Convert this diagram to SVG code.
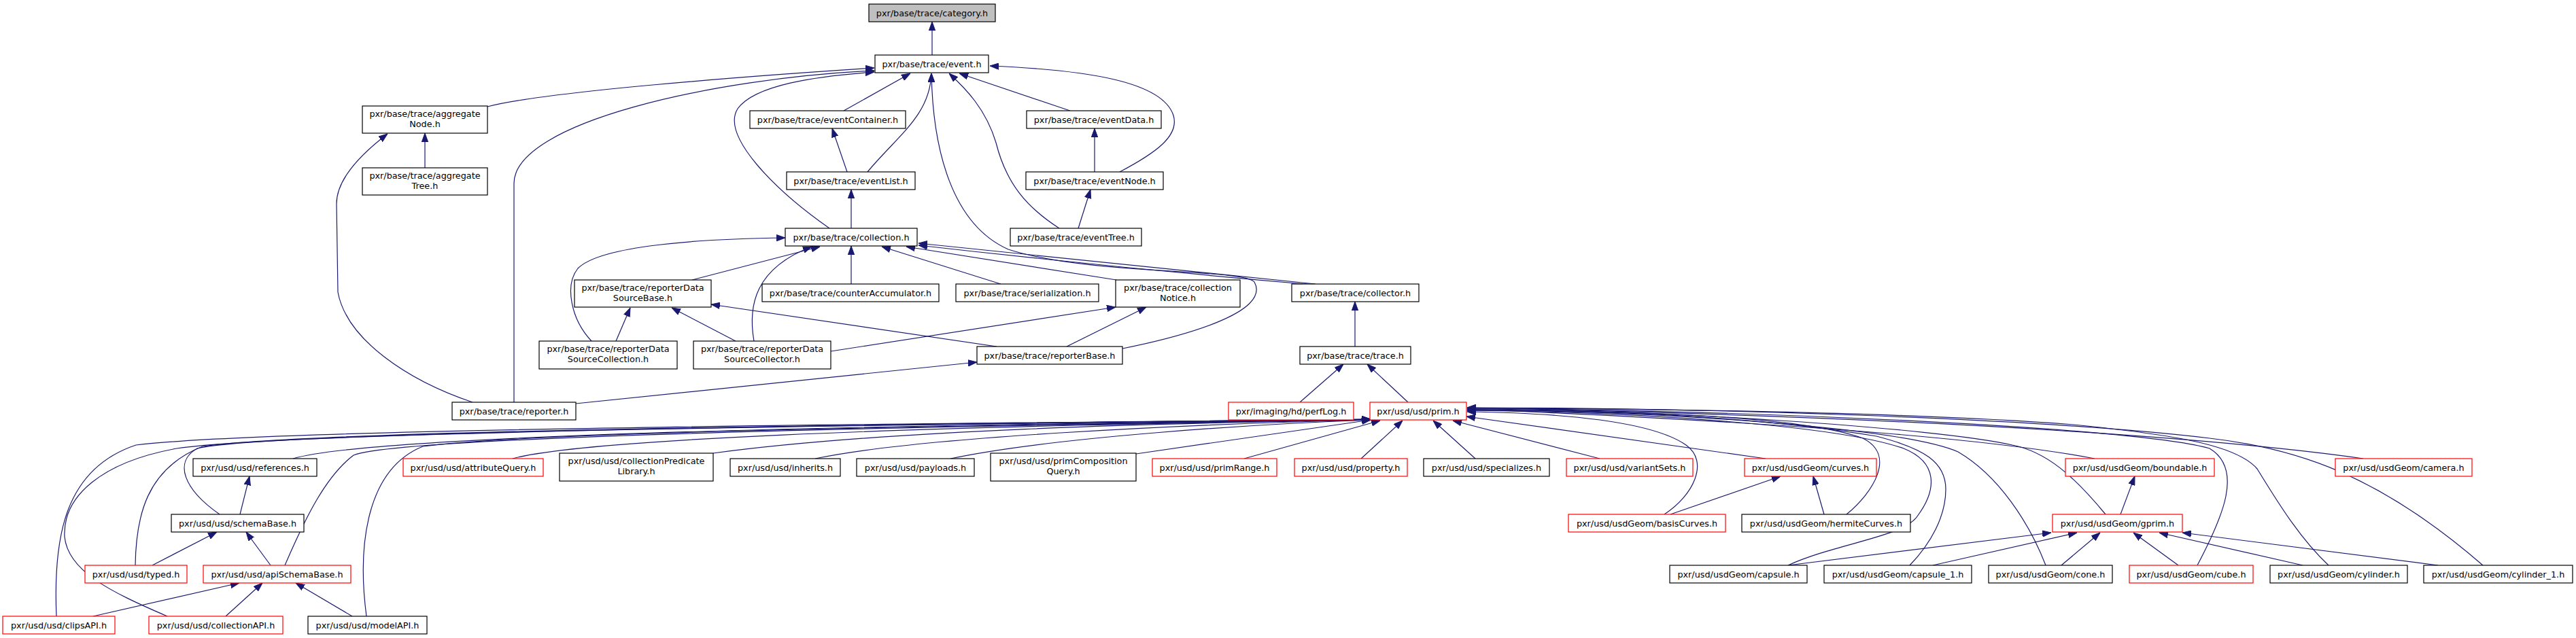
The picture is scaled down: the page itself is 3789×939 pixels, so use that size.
<svg xmlns="http://www.w3.org/2000/svg" width="3789" height="939" viewBox="0 0 3789 939">
<style>
.n rect{fill:#fff;stroke:#000;stroke-width:1.2}
.r rect{fill:#fff;stroke:#f00;stroke-width:1.2}
.g rect{fill:#bfbfbf;stroke:#000;stroke-width:1.2}
text{font-family:"DejaVu Sans",sans-serif;font-size:12.8px;fill:#000;text-anchor:middle}
#edges path{fill:none;stroke:#191970;stroke-width:1.2;marker-end:url(#ah)}
</style>
<defs>
<marker id="ah" markerUnits="userSpaceOnUse" markerWidth="13" markerHeight="10" refX="13" refY="4.7" orient="auto" viewBox="0 0 13 9.4">
<path d="M0,0 L13,4.7 L0,9.4 z" fill="#191970" stroke="#191970" stroke-width="1"/>
</marker>
</defs>
<rect width="3789" height="939" fill="#fff"/>
<g id="edges">
<path d="M1371,81 L1371,32"/>
<path d="M717,157 C800,135 1100,112 1286,100"/>
<path d="M756,592 L756,270 C756,180 1050,115 1286,104"/>
<path d="M1220,336 C1140,280 1060,200 1085,160 C1110,125 1200,112 1286,106"/>
<path d="M1241,163 L1339,108"/>
<path d="M1276,253 C1320,200 1368,170 1370,108"/>
<path d="M1651,513 C1740,495 1870,460 1845,415 C1830,395 1600,405 1483,367 C1400,330 1372,220 1370,108"/>
<path d="M1558,336 C1510,305 1480,270 1465,210 C1450,160 1420,130 1396,108"/>
<path d="M1574,163 L1411,108"/>
<path d="M1647,253 C1700,225 1735,200 1726,170 C1710,120 1600,103 1456,97"/>
<path d="M1610,253 L1610,189"/>
<path d="M1586,336 L1604,279"/>
<path d="M1246,253 L1224,189"/>
<path d="M1252,336 L1252,279"/>
<path d="M625,247 L625,196"/>
<path d="M695,592 C600,560 510,500 497,430 L495,300 C495,260 540,220 570,197"/>
<path d="M870,502 C840,470 830,420 850,395 C880,365 1000,352 1155,350"/>
<path d="M1018,412 L1206,363"/>
<path d="M1109,502 C1100,450 1110,395 1194,363"/>
<path d="M906,502 L927,453"/>
<path d="M1082,502 L988,453"/>
<path d="M1466,510 L1046,448"/>
<path d="M1252,418 L1252,362"/>
<path d="M1472,418 L1297,363"/>
<path d="M1642,412 L1333,363"/>
<path d="M1935,418 C1700,395 1500,372 1351,358"/>
<path d="M1930,419 C1700,399 1500,378 1351,361"/>
<path d="M1222,517 L1641,452"/>
<path d="M1569,510 L1686,452"/>
<path d="M1993,510 L1993,444"/>
<path d="M847,594 L1437,533"/>
<path d="M1912,592 L1976,536"/>
<path d="M2071,592 L2011,536"/>
<path d="M83,907 C78,790 95,690 200,655 C420,628 1600,622 2016,617"/>
<path d="M246,907 C160,870 100,840 95,790 C92,730 150,680 260,660 C450,632 1600,622 2016,617"/>
<path d="M199,832 C200,760 215,690 298,657 C480,630 1600,622 2016,617"/>
<path d="M323,757 C270,720 255,680 290,660 C400,632 1600,622 2016,617"/>
<path d="M431,675 C520,648 1000,628 2016,618"/>
<path d="M419,832 C450,760 480,700 520,670 C600,638 1600,624 2016,618"/>
<path d="M539,907 C525,800 540,690 622,657 C800,633 1600,624 2016,618"/>
<path d="M754,675 C850,648 1300,628 2016,618"/>
<path d="M1049,667 C1300,633 1700,623 2016,618"/>
<path d="M1199,675 C1350,643 1750,624 2016,618"/>
<path d="M1398,675 C1550,643 1850,624 2016,618"/>
<path d="M1671,668 L2016,618"/>
<path d="M1830,675 L2030,619"/>
<path d="M2002,675 L2063,619"/>
<path d="M2170,675 L2108,619"/>
<path d="M2353,675 L2137,619"/>
<path d="M2597,675 L2157,613"/>
<path d="M2448,757 C2490,730 2515,680 2480,655 C2430,620 2300,608 2158,606"/>
<path d="M2716,757 C2755,725 2790,670 2740,645 C2650,612 2400,604 2158,604"/>
<path d="M2630,832 C2700,800 2800,790 2820,760 C2850,720 2850,680 2800,660 C2700,625 2400,606 2158,604"/>
<path d="M2809,832 C2840,800 2862,760 2862,720 C2862,680 2830,660 2760,642 C2600,615 2400,605 2158,603"/>
<path d="M3009,832 C2985,770 2940,700 2880,665 C2800,630 2450,605 2158,603"/>
<path d="M3097,757 C3050,700 3010,665 2960,655 C2850,630 2450,603 2158,602"/>
<path d="M3081,675 C2950,650 2700,625 2158,602"/>
<path d="M3232,832 C3270,760 3300,690 3250,660 C3150,630 2600,604 2158,601"/>
<path d="M3425,832 C3380,790 3345,730 3320,690 C3290,655 3200,640 3050,625 C2800,606 2400,601 2158,601"/>
<path d="M3652,832 C3500,700 3380,660 3250,645 C3000,615 2500,600 2158,600"/>
<path d="M3476,675 C3300,650 2900,615 2158,600"/>
<path d="M353,757 L367,701"/>
<path d="M224,832 L319,783"/>
<path d="M398,832 L362,783"/>
<path d="M137,907 L352,858"/>
<path d="M332,907 L386,858"/>
<path d="M518,907 L435,858"/>
<path d="M2457,757 L2619,701"/>
<path d="M2683,757 L2667,701"/>
<path d="M3119,757 L3140,701"/>
<path d="M2630,832 L3017,784"/>
<path d="M2843,832 L3055,784"/>
<path d="M3032,832 L3089,784"/>
<path d="M3204,832 L3138,784"/>
<path d="M3387,832 L3176,784"/>
<path d="M3586,832 L3210,784"/>
</g>
<g id="category" class="g"><rect x="1278" y="6" width="186" height="26"/><text x="1371" y="23.5">pxr/base/trace/category.h</text></g>
<g id="event" class="n"><rect x="1287" y="81" width="167" height="26"/><text x="1370.5" y="98.5">pxr/base/trace/event.h</text></g>
<g id="aggregateNode" class="n"><rect x="533" y="156" width="184" height="40"/><text x="625" y="172">pxr/base/trace/aggregate</text><text x="625" y="186.7">Node.h</text></g>
<g id="eventContainer" class="n"><rect x="1103" y="163" width="229" height="26"/><text x="1217.5" y="180.5">pxr/base/trace/eventContainer.h</text></g>
<g id="eventData" class="n"><rect x="1510" y="163" width="198" height="26"/><text x="1609" y="180.5">pxr/base/trace/eventData.h</text></g>
<g id="aggregateTree" class="n"><rect x="533" y="247" width="184" height="40"/><text x="625" y="263">pxr/base/trace/aggregate</text><text x="625" y="277.7">Tree.h</text></g>
<g id="eventList" class="n"><rect x="1157" y="253" width="189" height="26"/><text x="1251.5" y="270.5">pxr/base/trace/eventList.h</text></g>
<g id="eventNode" class="n"><rect x="1509" y="253" width="202" height="26"/><text x="1610" y="270.5">pxr/base/trace/eventNode.h</text></g>
<g id="collection" class="n"><rect x="1155" y="336" width="194" height="26"/><text x="1252" y="353.5">pxr/base/trace/collection.h</text></g>
<g id="eventTree" class="n"><rect x="1486" y="336" width="193" height="26"/><text x="1582.5" y="353.5">pxr/base/trace/eventTree.h</text></g>
<g id="reporterDataSourceBase" class="n"><rect x="845" y="412" width="201" height="40"/><text x="945.5" y="428">pxr/base/trace/reporterData</text><text x="945.5" y="442.7">SourceBase.h</text></g>
<g id="counterAccumulator" class="n"><rect x="1121" y="418" width="260" height="26"/><text x="1251" y="435.5">pxr/base/trace/counterAccumulator.h</text></g>
<g id="serialization" class="n"><rect x="1406" y="418" width="210" height="26"/><text x="1511" y="435.5">pxr/base/trace/serialization.h</text></g>
<g id="collectionNotice" class="n"><rect x="1641" y="412" width="183" height="40"/><text x="1732.5" y="428">pxr/base/trace/collection</text><text x="1732.5" y="442.7">Notice.h</text></g>
<g id="collector" class="n"><rect x="1900" y="418" width="187" height="26"/><text x="1993.5" y="435.5">pxr/base/trace/collector.h</text></g>
<g id="reporterDataSourceCollection" class="n"><rect x="793" y="502" width="203" height="41"/><text x="894.5" y="518">pxr/base/trace/reporterData</text><text x="894.5" y="532.7">SourceCollection.h</text></g>
<g id="reporterDataSourceCollector" class="n"><rect x="1020" y="502" width="202" height="41"/><text x="1121" y="518">pxr/base/trace/reporterData</text><text x="1121" y="532.7">SourceCollector.h</text></g>
<g id="reporterBase" class="n"><rect x="1437" y="510" width="214" height="26"/><text x="1544" y="527.5">pxr/base/trace/reporterBase.h</text></g>
<g id="trace" class="n"><rect x="1912" y="510" width="163" height="26"/><text x="1993.5" y="527.5">pxr/base/trace/trace.h</text></g>
<g id="reporter" class="n"><rect x="665" y="592" width="182" height="26"/><text x="756" y="609.5">pxr/base/trace/reporter.h</text></g>
<g id="perfLog" class="r"><rect x="1807" y="592" width="184" height="26"/><text x="1899" y="609.5">pxr/imaging/hd/perfLog.h</text></g>
<g id="prim" class="r"><rect x="2015" y="592" width="142" height="26"/><text x="2086" y="609.5">pxr/usd/usd/prim.h</text></g>
<g id="references" class="n"><rect x="284" y="675" width="182" height="26"/><text x="375" y="692.5">pxr/usd/usd/references.h</text></g>
<g id="attributeQuery" class="r"><rect x="593" y="675" width="206" height="26"/><text x="696" y="692.5">pxr/usd/usd/attributeQuery.h</text></g>
<g id="collectionPredicateLibrary" class="n"><rect x="823" y="667" width="226" height="41"/><text x="936" y="683">pxr/usd/usd/collectionPredicate</text><text x="936" y="697.7">Library.h</text></g>
<g id="inherits" class="n"><rect x="1074" y="675" width="162" height="26"/><text x="1155" y="692.5">pxr/usd/usd/inherits.h</text></g>
<g id="payloads" class="n"><rect x="1260" y="675" width="173" height="26"/><text x="1346.5" y="692.5">pxr/usd/usd/payloads.h</text></g>
<g id="primCompositionQuery" class="n"><rect x="1457" y="667" width="214" height="41"/><text x="1564" y="683">pxr/usd/usd/primComposition</text><text x="1564" y="697.7">Query.h</text></g>
<g id="primRange" class="r"><rect x="1695" y="675" width="183" height="26"/><text x="1786.5" y="692.5">pxr/usd/usd/primRange.h</text></g>
<g id="property" class="r"><rect x="1904" y="675" width="166" height="26"/><text x="1987" y="692.5">pxr/usd/usd/property.h</text></g>
<g id="specializes" class="n"><rect x="2094" y="675" width="185" height="26"/><text x="2186.5" y="692.5">pxr/usd/usd/specializes.h</text></g>
<g id="variantSets" class="r"><rect x="2304" y="675" width="186" height="26"/><text x="2397" y="692.5">pxr/usd/usd/variantSets.h</text></g>
<g id="curves" class="r"><rect x="2566" y="675" width="194" height="26"/><text x="2663" y="692.5">pxr/usd/usdGeom/curves.h</text></g>
<g id="boundable" class="r"><rect x="3038" y="675" width="219" height="26"/><text x="3147.5" y="692.5">pxr/usd/usdGeom/boundable.h</text></g>
<g id="camera" class="r"><rect x="3435" y="675" width="201" height="26"/><text x="3535.5" y="692.5">pxr/usd/usdGeom/camera.h</text></g>
<g id="schemaBase" class="n"><rect x="252" y="757" width="195" height="26"/><text x="349.5" y="774.5">pxr/usd/usd/schemaBase.h</text></g>
<g id="basisCurves" class="r"><rect x="2307" y="757" width="231" height="26"/><text x="2422.5" y="774.5">pxr/usd/usdGeom/basisCurves.h</text></g>
<g id="hermiteCurves" class="n"><rect x="2562" y="757" width="248" height="26"/><text x="2686" y="774.5">pxr/usd/usdGeom/hermiteCurves.h</text></g>
<g id="gprim" class="r"><rect x="3019" y="757" width="191" height="26"/><text x="3114.5" y="774.5">pxr/usd/usdGeom/gprim.h</text></g>
<g id="typed" class="r"><rect x="125" y="832" width="150" height="26"/><text x="200" y="849.5">pxr/usd/usd/typed.h</text></g>
<g id="apiSchemaBase" class="r"><rect x="299" y="832" width="217" height="26"/><text x="407.5" y="849.5">pxr/usd/usd/apiSchemaBase.h</text></g>
<g id="capsule" class="n"><rect x="2456" y="832" width="202" height="26"/><text x="2557" y="849.5">pxr/usd/usdGeom/capsule.h</text></g>
<g id="capsule_1" class="n"><rect x="2683" y="832" width="217" height="26"/><text x="2791.5" y="849.5">pxr/usd/usdGeom/capsule_1.h</text></g>
<g id="cone" class="n"><rect x="2925" y="832" width="182" height="26"/><text x="3016" y="849.5">pxr/usd/usdGeom/cone.h</text></g>
<g id="cube" class="r"><rect x="3132" y="832" width="182" height="26"/><text x="3223" y="849.5">pxr/usd/usdGeom/cube.h</text></g>
<g id="cylinder" class="n"><rect x="3339" y="832" width="202" height="26"/><text x="3440" y="849.5">pxr/usd/usdGeom/cylinder.h</text></g>
<g id="cylinder_1" class="n"><rect x="3565" y="832" width="219" height="26"/><text x="3674.5" y="849.5">pxr/usd/usdGeom/cylinder_1.h</text></g>
<g id="clipsAPI" class="r"><rect x="4" y="907" width="165" height="26"/><text x="86.5" y="924.5">pxr/usd/usd/clipsAPI.h</text></g>
<g id="collectionAPI" class="r"><rect x="219" y="907" width="197" height="26"/><text x="317.5" y="924.5">pxr/usd/usd/collectionAPI.h</text></g>
<g id="modelAPI" class="n"><rect x="453" y="907" width="175" height="26"/><text x="540.5" y="924.5">pxr/usd/usd/modelAPI.h</text></g>
</svg>
